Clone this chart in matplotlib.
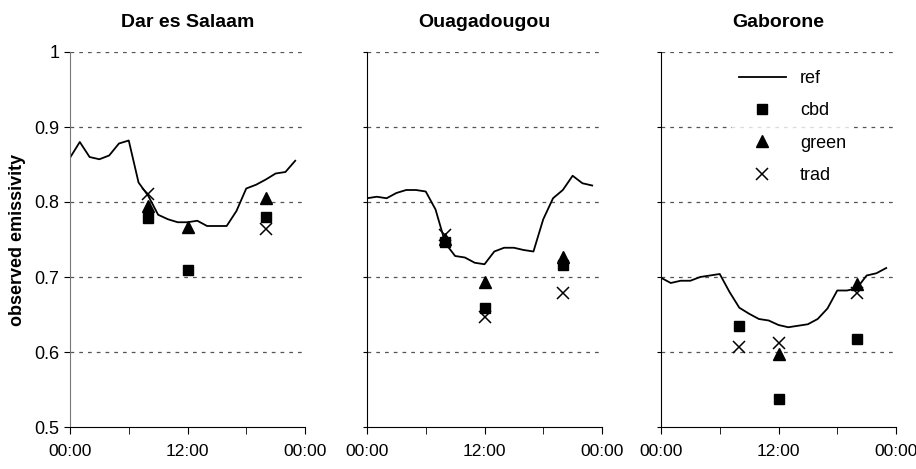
import numpy as np
import matplotlib
matplotlib.use("Agg")
import matplotlib.pyplot as plt

plt.rcParams['font.family'] = ['Liberation Sans', 'DejaVu Sans']

# hourly reference emissivity, 00:00 .. 23:00
hours = list(range(24))
ref_dar = [0.859, 0.880, 0.860, 0.857, 0.862, 0.878, 0.882, 0.826, 0.808, 0.783, 0.777, 0.773,
           0.773, 0.775, 0.768, 0.768, 0.768, 0.788, 0.818, 0.823, 0.830, 0.838, 0.840, 0.855]
ref_oua = [0.805, 0.807, 0.805, 0.812, 0.816, 0.816, 0.814, 0.790, 0.745, 0.728, 0.726, 0.719,
           0.717, 0.734, 0.739, 0.739, 0.736, 0.734, 0.777, 0.805, 0.816, 0.835, 0.825, 0.822]
ref_gab = [0.699, 0.692, 0.695, 0.695, 0.700, 0.702, 0.704, 0.680, 0.659, 0.651, 0.644, 0.642,
           0.636, 0.633, 0.635, 0.637, 0.644, 0.658, 0.682, 0.682, 0.685, 0.702, 0.705, 0.712]

# site observations at 08:00, 12:00, 20:00
obs_hours = [8, 12, 20]
cbd_dar = [0.778, 0.709, 0.780]
green_dar = [0.794, 0.766, 0.805]
trad_dar = [0.811, np.nan, 0.764]
cbd_oua = [0.746, 0.658, 0.716]
green_oua = [0.750, 0.693, 0.726]
trad_oua = [0.756, 0.647, 0.678]
cbd_gab = [0.634, 0.537, 0.617]
green_gab = [np.nan, 0.597, 0.691]
trad_gab = [0.607, 0.612, 0.678]

cities = ["Dar es Salaam", "Ouagadougou", "Gaborone"]
refs = [ref_dar, ref_oua, ref_gab]
cbds = [cbd_dar, cbd_oua, cbd_gab]
greens = [green_dar, green_oua, green_gab]
trads = [trad_dar, trad_oua, trad_gab]

yticks = [0.5, 0.6, 0.7, 0.8, 0.9, 1.0]
ytick_labels = ["0.5", "0.6", "0.7", "0.8", "0.9", "1"]

fig = plt.figure(figsize=(9.16, 4.69), dpi=100)
lefts = [70 / 916, 367 / 916, 661 / 916]
w = 235 / 916
b = 42 / 469
h = 375 / 469

for i in range(3):
    ax = fig.add_axes([lefts[i], b, w, h])
    for yv in yticks[1:]:
        ax.axhline(yv, color='#555555', lw=0.9, ls=(0, (3, 4)), zorder=0)
    ax.plot(hours, refs[i], color='black', lw=1.3, label='ref')
    ax.plot(obs_hours, cbds[i], ls='none', marker='s', ms=7, color='black', label='cbd')
    ax.plot(obs_hours, greens[i], ls='none', marker='^', ms=8, color='black', label='green')
    ax.plot(obs_hours, trads[i], ls='none', marker='x', ms=9, mew=1.1, color='black', label='trad')

    ax.set_xlim(0, 24)
    ax.set_ylim(0.5, 1.0)
    ax.set_xticks([0, 12, 24])
    ax.set_xticklabels(["00:00", "12:00", "00:00"])
    ax.set_xticks([6, 18], minor=True)
    ax.tick_params(axis='x', which='both', direction='out', length=5, labelsize=12.5, pad=7)
    ax.set_yticks(yticks)
    ax.spines['top'].set_visible(False)
    ax.spines['right'].set_visible(False)
    if i == 0:
        ax.set_yticklabels(ytick_labels)
        ax.tick_params(axis='y', direction='out', length=4, labelsize=13)
        ax.set_ylabel("observed emissivity", fontsize=13, fontweight='bold', labelpad=6)
        ax.spines['left'].set_color('#777777')
    else:
        ax.set_yticklabels([])
        ax.tick_params(axis='y', direction='out', length=3)
    ax.set_title(cities[i], fontsize=14, fontweight='bold', pad=18)

    if i == 2:
        leg = ax.legend(loc='upper center', bbox_to_anchor=(0.56, 0.995), frameon=True,
                        fontsize=13, labelspacing=0.85, handlelength=2.6,
                        borderpad=0.4, fancybox=False)
        leg.get_frame().set_facecolor('white')
        leg.get_frame().set_edgecolor('none')

fig.savefig("out.png", dpi=100)
